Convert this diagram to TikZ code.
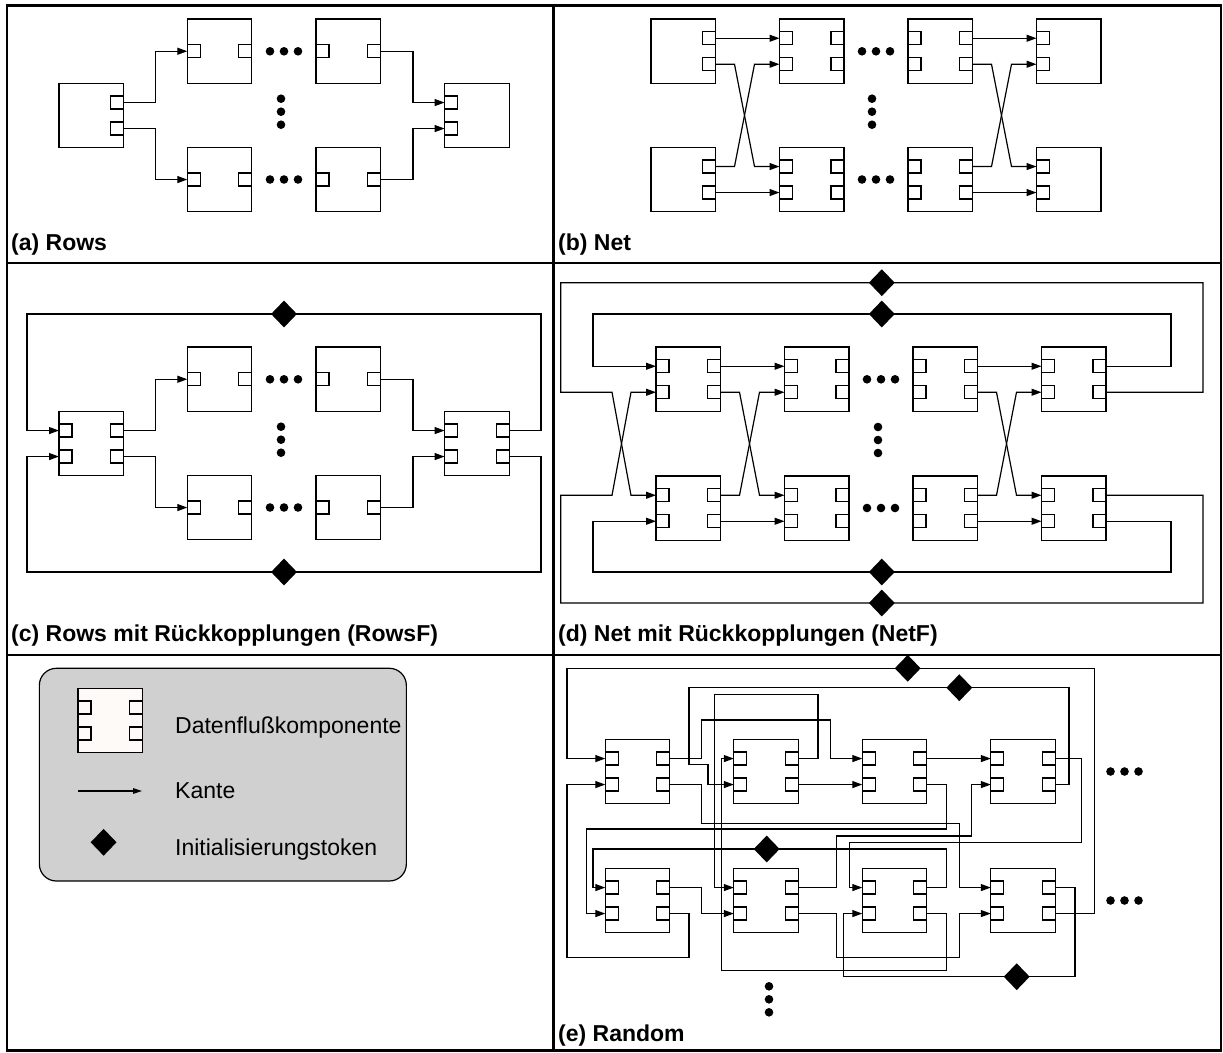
\documentclass[tikz,border=0pt]{standalone}
\usepackage{fontspec}
\setmainfont{Liberation Sans}
\usetikzlibrary{arrows.meta,shapes.geometric}
\definecolor{legendgray}{RGB}{208,208,208}
\definecolor{snowwhite}{RGB}{253,250,248}
\newcommand{\compfill}{white}
% data-flow component: name, left x, top y, #left ports (0/1/2), #right ports (0/1/2)
\newcommand{\dfcomp}[5]{%
  \node[cbox] (#1) at ({#2+32.25},{#3+32.25}) {};
  \ifnum#4=1 \node[port,anchor=west] (#1-i) at ({#2},{#3+32.25}) {};\fi
  \ifnum#4=2
    \node[port,anchor=west] (#1-i1) at ({#2},{#3+19.25}) {};
    \node[port,anchor=west] (#1-i2) at ({#2},{#3+45.25}) {};
  \fi
  \ifnum#5=1 \node[port,anchor=east] (#1-o) at ({#2+64.5},{#3+32.25}) {};\fi
  \ifnum#5=2
    \node[port,anchor=east] (#1-o1) at ({#2+64.5},{#3+19.25}) {};
    \node[port,anchor=east] (#1-o2) at ({#2+64.5},{#3+45.25}) {};
  \fi}
\newcommand{\dotsrow}[2]{\fill ({#1-14},#2) circle[radius=4.3] (#1,#2) circle[radius=4.3] ({#1+14},#2) circle[radius=4.3];}
\newcommand{\dotscol}[2]{\fill (#1,{#2-13}) circle[radius=4.3] (#1,#2) circle[radius=4.3] (#1,{#2+13}) circle[radius=4.3];}
\newcommand{\crossedge}[2]{\draw[edge] (#1.east) -- ++(19,0) -- ([xshift=-25pt]#2.west) -- (#2.west);}
\begin{document}
\begin{tikzpicture}[x=1pt,y=-1pt,
  cbox/.style={draw, line width=1.2pt, minimum width=64.5pt, minimum height=64.5pt, inner sep=0pt, outer sep=0pt, fill=\compfill},
  port/.style={draw, line width=1.2pt, minimum size=13pt, inner sep=0pt, outer sep=0pt, fill=\compfill},
  edge/.style={line width=1.2pt, -{Triangle[length=10pt,width=7pt]}},
  token/.style={diamond, fill=black, inner sep=0pt, minimum width=26pt, minimum height=27pt},
  plabel/.style={anchor=base west, inner sep=0pt, font=\fontsize{23}{27}\selectfont\bfseries},
  lgtext/.style={anchor=base west, inner sep=0pt, font=\fontsize{23}{27}\selectfont},
  legendbox/.style={draw, line width=1.2pt, fill=legendgray, rounded corners=17pt, minimum width=367pt, minimum height=212.7pt, inner sep=0pt},
  frame/.style={line width=2.5pt}]
\useasboundingbox (0,0) rectangle (1223,1052);

% ---------- frame ----------
\draw[frame] (7,5.5) rectangle (1221,1050.5);
\draw[frame] (553.5,5.5) -- (553.5,1050.5);
\draw[frame] (7,263) -- (1221,263);
\draw[frame] (7,655) -- (1221,655);

% ---------- (a) Rows ----------
\dfcomp{aL}{59}{83.3}{0}{2}
\dfcomp{aT1}{187.3}{19}{1}{1}
\dfcomp{aT2}{316}{19}{1}{1}
\dfcomp{aB1}{187.3}{147.3}{1}{1}
\dfcomp{aB2}{316}{147.3}{1}{1}
\dfcomp{aR}{444.6}{83.3}{2}{0}
\draw[edge] (aL-o1.east) -- ++(32,0) |- (aT1-i.west);
\draw[edge] (aL-o2.east) -- ++(32,0) |- (aB1-i.west);
\draw[edge] (aT2-o.east) -- ++(32.5,0) |- (aR-i1.west);
\draw[edge] (aB2-o.east) -- ++(32.5,0) |- (aR-i2.west);
\dotsrow{284}{51.3}
\dotsrow{284}{179.5}
\dotscol{281}{111.7}
\node[plabel] (la) at (11,250.7) {(a) Rows};

% ---------- (b) Net ----------
\dfcomp{bA1}{651}{19}{0}{2}
\dfcomp{bA2}{651}{147.3}{0}{2}
\dfcomp{bB1}{779.5}{19}{2}{2}
\dfcomp{bB2}{779.5}{147.3}{2}{2}
\dfcomp{bC1}{908}{19}{2}{2}
\dfcomp{bC2}{908}{147.3}{2}{2}
\dfcomp{bD1}{1036.5}{19}{2}{0}
\dfcomp{bD2}{1036.5}{147.3}{2}{0}
\draw[edge] (bA1-o1.east) -- (bB1-i1.west);
\draw[edge] (bA2-o2.east) -- (bB2-i2.west);
\crossedge{bA1-o2}{bB2-i1}
\crossedge{bA2-o1}{bB1-i2}
\draw[edge] (bC1-o1.east) -- (bD1-i1.west);
\draw[edge] (bC2-o2.east) -- (bD2-i2.west);
\crossedge{bC1-o2}{bD2-i1}
\crossedge{bC2-o1}{bD1-i2}
\dotsrow{876}{51.3}
\dotsrow{876}{179.5}
\dotscol{872}{111.7}
\node[plabel] (lb) at (558,250.7) {(b) Net};

% ---------- (c) Rows with feedback ----------
\dfcomp{cL}{59}{411.3}{2}{2}
\dfcomp{cT1}{187.3}{347}{1}{1}
\dfcomp{cT2}{316}{347}{1}{1}
\dfcomp{cB1}{187.3}{475.3}{1}{1}
\dfcomp{cB2}{316}{475.3}{1}{1}
\dfcomp{cR}{444.6}{411.3}{2}{2}
\draw[edge] (cL-o1.east) -- ++(32,0) |- (cT1-i.west);
\draw[edge] (cL-o2.east) -- ++(32,0) |- (cB1-i.west);
\draw[edge] (cT2-o.east) -- ++(32.5,0) |- (cR-i1.west);
\draw[edge] (cB2-o.east) -- ++(32.5,0) |- (cR-i2.west);
\draw[edge] (cR-o1.east) -| (541,314) -- (27,314) |- (cL-i1.west);
\draw[edge] (cR-o2.east) -| (541,572) -- (27,572) |- (cL-i2.west);
\node[token] (cTok1) at (284,314) {};
\node[token] (cTok2) at (284,572) {};
\dotsrow{284}{379.3}
\dotsrow{284}{507.5}
\dotscol{281}{439.7}
\node[plabel] (lc) at (11,641) {(c) Rows mit Rückkopplungen (RowsF)};

% ---------- (d) Net with feedback ----------
\dfcomp{dA1}{656}{347}{2}{2}
\dfcomp{dA2}{656}{476}{2}{2}
\dfcomp{dB1}{784.5}{347}{2}{2}
\dfcomp{dB2}{784.5}{476}{2}{2}
\dfcomp{dC1}{913}{347}{2}{2}
\dfcomp{dC2}{913}{476}{2}{2}
\dfcomp{dD1}{1041.5}{347}{2}{2}
\dfcomp{dD2}{1041.5}{476}{2}{2}
\draw[edge] (dA1-o1.east) -- (dB1-i1.west);
\draw[edge] (dA2-o2.east) -- (dB2-i2.west);
\crossedge{dA1-o2}{dB2-i1}
\crossedge{dA2-o1}{dB1-i2}
\draw[edge] (dC1-o1.east) -- (dD1-i1.west);
\draw[edge] (dC2-o2.east) -- (dD2-i2.west);
\crossedge{dC1-o2}{dD2-i1}
\crossedge{dC2-o1}{dD1-i2}
\draw[edge] (dD1-o2.east) -| (1203,282.7) -- (560.7,282.7) |- (612,392.25) -- ([xshift=-25pt]dA2-i1.west) -- (dA2-i1.west);
\draw[edge] (dD2-o1.east) -| (1203,603) -- (560.7,603) |- (612,495.25) -- ([xshift=-25pt]dA1-i2.west) -- (dA1-i2.west);
\draw[edge] (dD1-o1.east) -| (1171,314) -- (593,314) |- (dA1-i1.west);
\draw[edge] (dD2-o2.east) -| (1171,572) -- (593,572) |- (dA2-i2.west);
\node[token] (dTok1) at (881.8,282.7) {};
\node[token] (dTok2) at (881.8,314) {};
\node[token] (dTok3) at (881.8,572) {};
\node[token] (dTok4) at (881.8,603) {};
\dotsrow{881}{379.3}
\dotsrow{881}{508}
\dotscol{878}{440}
\node[plabel] (ld) at (558,641.5) {(d) Net mit Rückkopplungen (NetF)};

% ---------- legend ----------
\node[legendbox] (legend) at (222.85,774.65) {};
\renewcommand{\compfill}{snowwhite}
\dfcomp{lgC}{78}{688.3}{2}{2}
\renewcommand{\compfill}{white}
\coordinate (lgA1) at (78,791);
\coordinate (lgA2) at (142,791);
\draw[line width=1.2pt, -{Triangle[length=9pt,width=5.5pt]}] (lgA1) -- (lgA2);
\node[token] (lgTok) at (103.6,842.3) {};
\node[lgtext] (lgT1) at (175,733.3) {Datenflußkomponente};
\node[lgtext] (lgT2) at (175,798.3) {Kante};
\node[lgtext] (lgT3) at (175,855) {Initialisierungstoken};

% ---------- (e) Random ----------
\dfcomp{e1T}{605.3}{739.3}{2}{2}
\dfcomp{e2T}{733.8}{739.3}{2}{2}
\dfcomp{e3T}{862.3}{739.3}{2}{2}
\dfcomp{e4T}{990.8}{739.3}{2}{2}
\dfcomp{e1B}{605.3}{868.3}{2}{2}
\dfcomp{e2B}{733.8}{868.3}{2}{2}
\dfcomp{e3B}{862.3}{868.3}{2}{2}
\dfcomp{e4B}{990.8}{868.3}{2}{2}
\draw[edge] (e4B-o2.east) -| (1094.3,668.3) -- (567,668.3) |- (e1T-i1.west);
\draw[edge] (e1B-o2.east) -| (689,957.3) -- (567,957.3) |- (e1T-i2.west);
\draw[edge] (e1T-o1.east) -| (701.3,720) -- (830.7,720) |- (e3T-i1.west);
\draw[edge] (e4T-o2.east) -| (1069,687.7) -- (689,687.7) -- (689,764.3) -- (708,764.3) |- (e2T-i2.west);
\draw[edge] (e2T-o1.east) -| (818,694.3) -- (714.7,694.3) |- (e2B-i1.west);
\draw[edge] (e3B-o2.east) -| (946.7,970.7) -- (721.3,970.7) |- (e2T-i1.west);
\draw[edge] (e3B-o1.east) -| (946.7,849) -- (593,849) |- (e1B-i1.west);
\draw[edge] (e1T-o2.east) -| (701.3,823.3) -- (959.3,823.3) |- (e4B-i1.west);
\draw[edge] (e3T-o2.east) -| (946.7,829) -- (586.3,829) |- (e1B-i2.west);
\draw[edge] (e2B-o1.east) -| (836.3,836) -- (971.7,836) |- (e4T-i2.west);
\draw[edge] (e4T-o1.east) -| (1081.7,842.7) -- (849.7,842.7) |- (e3B-i1.west);
\draw[edge] (e2B-o2.east) -| (836.3,957.3) -- (959.3,957.3) |- (e4B-i2.west);
\draw[edge] (e4B-o1.east) -| (1075,976.7) -- (843.7,976.7) |- (e3B-i2.west);
\draw[edge] (e1B-o1.east) -- ++(32,0) |- (e2B-i2.west);
\draw[edge] (e2T-o2.east) -- (e3T-i2.west);
\draw[edge] (e3T-o1.east) -- (e4T-i1.west);
\node[token] (eTok1) at (907.7,668.3) {};
\node[token] (eTok2) at (959.3,687.7) {};
\node[token] (eTok3) at (766.7,849) {};
\node[token] (eTok4) at (1016.7,976.7) {};
\dotsrow{1124.5}{771.5}
\dotsrow{1124.5}{900.5}
\dotscol{769}{999.3}
\node[plabel] (le) at (558,1041.7) {(e) Random};
\end{tikzpicture}
\end{document}
